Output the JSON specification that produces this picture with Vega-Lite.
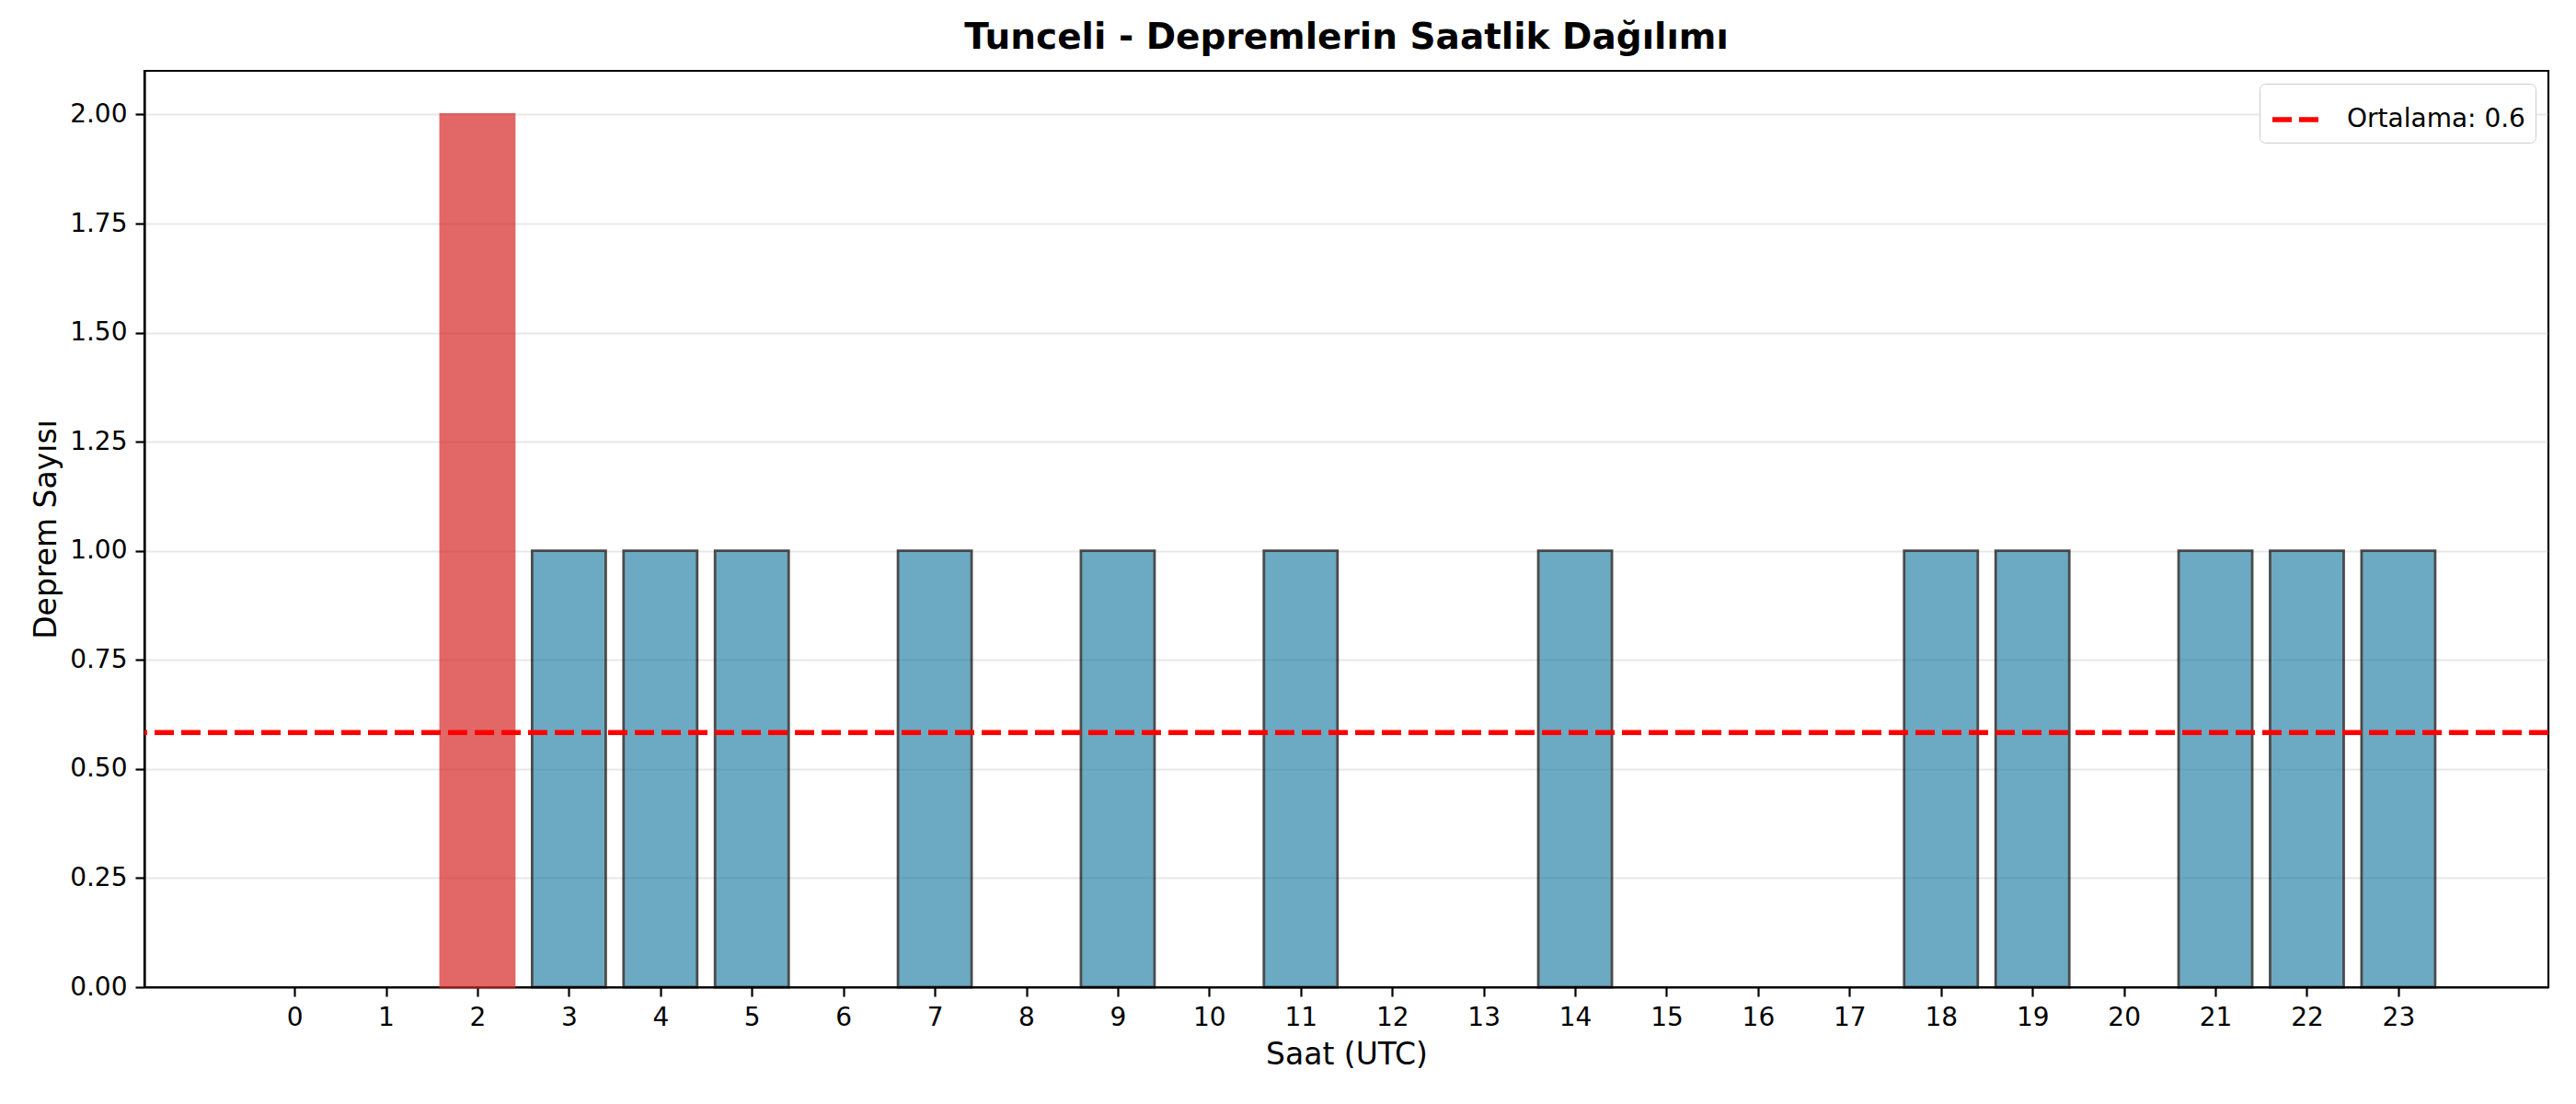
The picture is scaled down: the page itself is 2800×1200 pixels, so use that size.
{
  "$schema": "https://vega.github.io/schema/vega-lite/v6.json",
  "autosize": {"type": "none"},
  "width": 2613,
  "height": 996,
  "padding": {"left": 157, "top": 77, "right": 30, "bottom": 127},
  "background": "white",
  "title": {
    "text": "Tunceli - Depremlerin Saatlik Dağılımı",
    "font": "DejaVu Sans",
    "fontSize": 39,
    "fontWeight": "bold",
    "color": "black",
    "anchor": "middle",
    "offset": 16
  },
  "config": {
    "font": "DejaVu Sans",
    "view": {"stroke": "black", "strokeWidth": 2.2},
    "axis": {
      "labelFont": "DejaVu Sans",
      "titleFont": "DejaVu Sans",
      "labelFontSize": 28,
      "titleFontSize": 33,
      "titleFontWeight": "normal",
      "labelColor": "black",
      "titleColor": "black",
      "domainColor": "black",
      "domainWidth": 2.2,
      "tickColor": "black",
      "tickWidth": 2.2,
      "tickSize": 10,
      "labelPadding": 9
    },
    "legend": {
      "labelFont": "DejaVu Sans",
      "labelFontSize": 28,
      "labelColor": "black",
      "labelLimit": 600
    }
  },
  "data": {
    "values": [
      {"saat": 0, "sayi": 0},
      {"saat": 1, "sayi": 0},
      {"saat": 2, "sayi": 2},
      {"saat": 3, "sayi": 1},
      {"saat": 4, "sayi": 1},
      {"saat": 5, "sayi": 1},
      {"saat": 6, "sayi": 0},
      {"saat": 7, "sayi": 1},
      {"saat": 8, "sayi": 0},
      {"saat": 9, "sayi": 1},
      {"saat": 10, "sayi": 0},
      {"saat": 11, "sayi": 1},
      {"saat": 12, "sayi": 0},
      {"saat": 13, "sayi": 0},
      {"saat": 14, "sayi": 1},
      {"saat": 15, "sayi": 0},
      {"saat": 16, "sayi": 0},
      {"saat": 17, "sayi": 0},
      {"saat": 18, "sayi": 1},
      {"saat": 19, "sayi": 1},
      {"saat": 20, "sayi": 0},
      {"saat": 21, "sayi": 1},
      {"saat": 22, "sayi": 1},
      {"saat": 23, "sayi": 1}
    ]
  },
  "layer": [
    {
      "transform": [{"filter": "datum.sayi > 0"}],
      "mark": {"type": "bar", "width": 80, "opacity": 0.7, "strokeWidth": 2.8},
      "encoding": {
        "x": {
          "field": "saat",
          "type": "quantitative",
          "scale": {"domain": [-1.59, 24.59], "nice": false, "zero": false},
          "axis": {
            "values": [0,1,2,3,4,5,6,7,8,9,10,11,12,13,14,15,16,17,18,19,20,21,22,23],
            "format": "d",
            "grid": false,
            "title": "Saat (UTC)",
            "titlePadding": 10
          }
        },
        "y": {
          "field": "sayi",
          "type": "quantitative",
          "scale": {"domain": [0, 2.1], "nice": false},
          "axis": {
            "values": [0, 0.25, 0.5, 0.75, 1, 1.25, 1.5, 1.75, 2],
            "format": ".2f",
            "grid": true,
            "gridColor": "#b0b0b0",
            "gridOpacity": 0.3,
            "gridWidth": 2.2,
            "title": "Deprem Sayısı",
            "titlePadding": 8
          }
        },
        "fill": {
          "condition": {"test": "datum.sayi >= 2", "value": "#D62828"},
          "value": "#2E86AB"
        },
        "stroke": {
          "condition": {"test": "datum.sayi >= 2", "value": "#D62828"},
          "value": "black"
        }
      }
    },
    {
      "data": {"values": [{"ortalama": 0.5833, "etiket": "Ortalama: 0.6"}]},
      "mark": {"type": "rule", "strokeWidth": 5.5, "strokeDash": [21, 8]},
      "encoding": {
        "y": {"field": "ortalama", "type": "quantitative"},
        "stroke": {
          "field": "etiket",
          "type": "nominal",
          "scale": {"range": ["#ff0000"]},
          "legend": {
            "title": null,
            "orient": "top-right",
            "offset": 14,
            "padding": 11,
            "fillColor": "white",
            "strokeColor": "#cccccc",
            "cornerRadius": 6,
            "symbolType": "stroke",
            "symbolSize": 2500,
            "symbolStrokeWidth": 5.5,
            "symbolDash": [21, 8],
            "labelOffset": 28,
            "labelLimit": 600
          }
        }
      }
    }
  ]
}
